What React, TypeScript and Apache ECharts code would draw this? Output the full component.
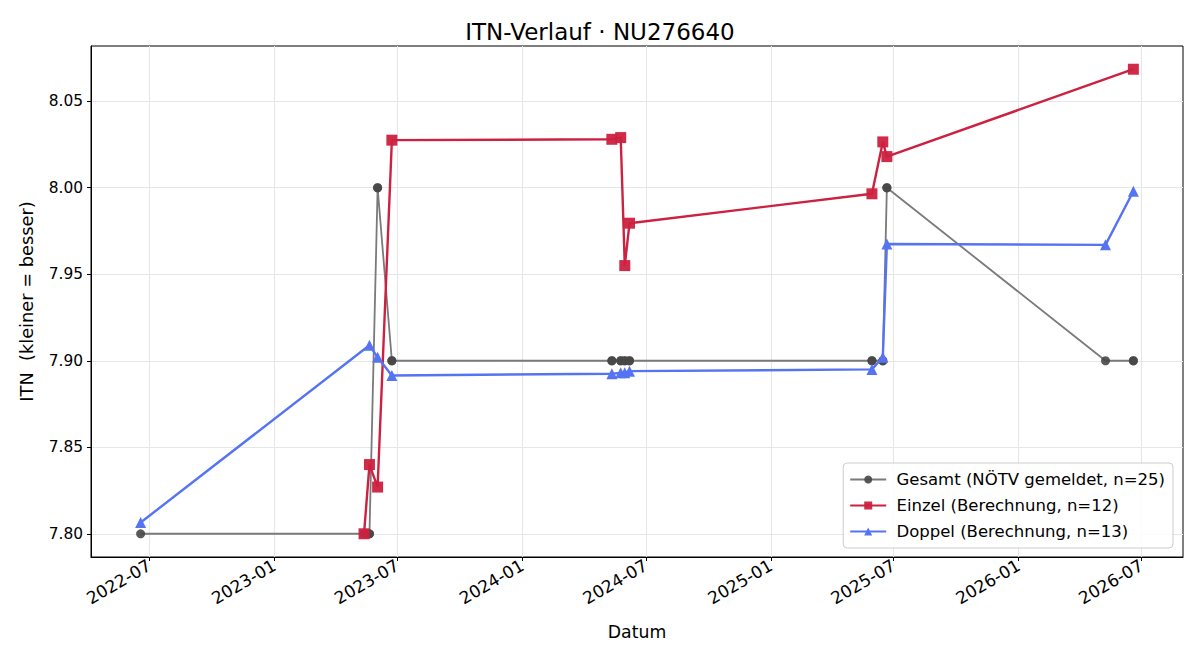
import React, { useEffect, useRef } from "react";
import * as echarts from "echarts";

const FONT = "DejaVu Sans, Verdana, sans-serif";

// Gesamt (NÖTV gemeldet) – one entry per match (Einzel + Doppel)
const gesamtDates = [
  "2022-06-18", "2023-05-13", "2023-05-21", "2023-05-21", "2023-06-02", "2023-06-02",
  "2023-06-23", "2023-06-23", "2024-05-12", "2024-05-12", "2024-05-25", "2024-05-25",
  "2024-05-31", "2024-05-31", "2024-06-07", "2024-06-07", "2025-05-30", "2025-05-30",
  "2025-06-15", "2025-06-15", "2025-06-21", "2025-06-21", "2026-05-09", "2026-06-19",
  "2026-06-19",
];
const gesamtValues = [
  7.80, 7.80, 7.80, 7.80, 8.00, 8.00,
  7.90, 7.90, 7.90, 7.90, 7.90, 7.90,
  7.90, 7.90, 7.90, 7.90, 7.90, 7.90,
  7.90, 7.90, 8.00, 8.00, 7.90, 7.90,
  7.90,
];

const einzelDates = [
  "2023-05-13", "2023-05-21", "2023-06-02", "2023-06-23",
  "2024-05-12", "2024-05-25", "2024-05-31", "2024-06-07",
  "2025-05-30", "2025-06-15", "2025-06-21", "2026-06-19",
];
const einzelValues = [
  7.800, 7.840, 7.827, 8.0275,
  8.028, 8.029, 7.955, 7.9795,
  7.9965, 8.0265, 8.018, 8.0685,
];

const doppelDates = [
  "2022-06-18", "2023-05-21", "2023-06-02", "2023-06-23",
  "2024-05-12", "2024-05-25", "2024-05-31", "2024-06-07",
  "2025-05-30", "2025-06-15", "2025-06-21", "2026-05-09", "2026-06-19",
];
const doppelValues = [
  7.8065, 7.909, 7.902, 7.8915,
  7.8925, 7.893, 7.893, 7.894,
  7.895, 7.902, 7.9675, 7.967, 7.998,
];

const xTickLabels = [
  "2022-07", "2023-01", "2023-07", "2024-01", "2024-07",
  "2025-01", "2025-07", "2026-01", "2026-07",
];
const yTickValues = [7.80, 7.85, 7.90, 7.95, 8.00, 8.05];

const toTime = (s: string) => {
  const [y, m, d] = s.split("-").map(Number);
  return new Date(y, m - 1, d || 1).getTime();
};
const pad2 = (n: number) => (n < 10 ? "0" + n : "" + n);

export default function App() {
  const ref = useRef<HTMLDivElement>(null);

  useEffect(() => {
    if (!ref.current) return;
    const chart = echarts.init(ref.current, null, { renderer: "svg" });

    const allT = [...gesamtDates, ...einzelDates, ...doppelDates].map(toTime);
    const tLo = Math.min(...allT);
    const tHi = Math.max(...allT);
    const tPad = (tHi - tLo) * 0.05;
    const allV = [...gesamtValues, ...einzelValues, ...doppelValues];
    const vLo = Math.min(...allV);
    const vHi = Math.max(...allV);
    const vPad = (vHi - vLo) * 0.05;
    const xTicks = xTickLabels.map(toTime);

    const pairs = (ds: string[], vs: number[]) => ds.map((d, i) => [toTime(d), vs[i]]);

    const textStyle = { fontFamily: FONT, color: "#000" };

    chart.setOption({
      animation: false,
      backgroundColor: "#fff",
      textStyle: { fontFamily: FONT },
      title: {
        text: "ITN-Verlauf · NU276640",
        left: "center",
        top: 15,
        textStyle: { ...textStyle, fontSize: 23, fontWeight: "normal" },
      },
      grid: {
        left: 91,
        right: 17,
        top: 46,
        bottom: 103,
        show: true,
        borderColor: "#000",
        borderWidth: 1,
        backgroundColor: "transparent",
      },
      legend: {
        orient: "vertical",
        right: 27,
        bottom: 112,
        itemWidth: 36,
        itemHeight: 10,
        itemGap: 9,
        padding: [8, 8, 8, 6],
        backgroundColor: "rgba(255,255,255,0.85)",
        borderColor: "#cccccc",
        borderWidth: 1,
        borderRadius: 4,
        formatter: (n: string) => " " + n,
        textStyle: { ...textStyle, fontSize: 16.5 },
        data: [
          "Gesamt (NÖTV gemeldet, n=25)",
          "Einzel (Berechnung, n=12)",
          "Doppel (Berechnung, n=13)",
        ],
      },
      xAxis: {
        type: "value",
        min: tLo - tPad,
        max: tHi + tPad,
        name: "Datum",
        nameLocation: "middle",
        nameGap: 66,
        nameTextStyle: { ...textStyle, fontSize: 17.3 },
        axisLine: { show: true, onZero: false, lineStyle: { color: "#000", width: 1 } },
        axisTick: { show: true, length: 4, inside: false, lineStyle: { color: "#000" }, customValues: xTicks },
        axisLabel: {
          customValues: xTicks,
          rotate: 30,
          margin: 7,
          fontSize: 17,
          showMinLabel: true,
          showMaxLabel: true,
          ...textStyle,
          formatter: (v: number) => {
            const d = new Date(v);
            return d.getFullYear() + "-" + pad2(d.getMonth() + 1);
          },
        },
        splitLine: { show: true, lineStyle: { color: "#e6e6e6", width: 1 } },
      },
      yAxis: {
        type: "value",
        min: vLo - vPad,
        max: vHi + vPad,
        name: "ITN  (kleiner = besser)",
        nameLocation: "middle",
        nameGap: 56,
        nameRotate: 90,
        nameTextStyle: { ...textStyle, fontSize: 17.8 },
        axisLine: { show: true, lineStyle: { color: "#000", width: 1 } },
        axisTick: { show: true, length: 4, lineStyle: { color: "#000" }, customValues: yTickValues },
        axisLabel: {
          customValues: yTickValues,
          margin: 8,
          fontSize: 15.4,
          ...textStyle,
          formatter: (v: number) => v.toFixed(2),
        },
        splitLine: { show: true, lineStyle: { color: "#e6e6e6", width: 1 } },
      },
      series: [
        {
          name: "Gesamt (NÖTV gemeldet, n=25)",
          type: "line",
          data: pairs(gesamtDates, gesamtValues),
          symbol: "circle",
          symbolSize: 9,
          showAllSymbol: true,
          lineStyle: { color: "#7a7a7a", width: 1.8 },
          itemStyle: { color: "#474747", opacity: 0.9 },
          z: 2,
        },
        {
          name: "Einzel (Berechnung, n=12)",
          type: "line",
          data: pairs(einzelDates, einzelValues),
          symbol: "rect",
          symbolSize: 11,
          showAllSymbol: true,
          lineStyle: { color: "#cc2140", width: 2.4 },
          itemStyle: { color: "#cc2140", opacity: 0.95 },
          z: 3,
        },
        {
          name: "Doppel (Berechnung, n=13)",
          type: "line",
          data: pairs(doppelDates, doppelValues),
          symbol: "triangle",
          symbolSize: 11,
          showAllSymbol: true,
          lineStyle: { color: "#5674f2", width: 2.4 },
          itemStyle: { color: "#5674f2" },
          z: 4,
        },
      ],
    });

    return () => chart.dispose();
  }, []);

  return (
    <div
      ref={ref}
      style={{ position: "fixed", left: 0, top: 0, width: 1200, height: 660, background: "#fff" }}
    />
  );
}
